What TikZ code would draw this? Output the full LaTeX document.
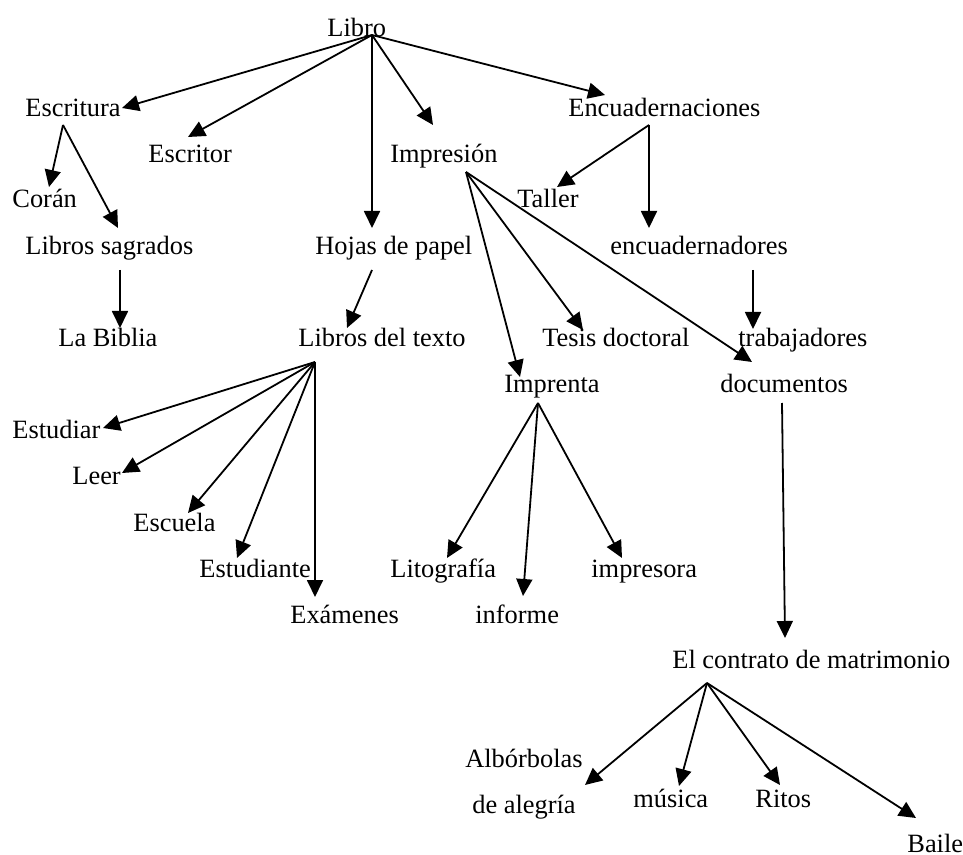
\documentclass[tikz,border=0pt]{standalone}
\usepackage{fontspec}
\setmainfont{Liberation Serif}
\usetikzlibrary{arrows.meta}

\begin{document}
\begin{tikzpicture}[x=0.5pt,y=-0.5pt,
  palabra/.style={anchor=base west,inner sep=0pt,font=\fontsize{13.2}{15}\selectfont},
  flecha/.style={line width=0.9pt,-{Triangle[length=8.5pt,width=8pt]}}]
\useasboundingbox (0,0) rectangle (963,855);

\node[palabra] (libro) at (327,37) {Libro};
\node[palabra] (escritura) at (25,117) {Escritura};
\node[palabra] (escritor) at (148,163) {Escritor};
\node[palabra] (impresion) at (390,163) {Impresión};
\node[palabra] (encuadernaciones) at (568,117) {Encuadernaciones};
\node[palabra] (coran) at (12,208) {Corán};
\node[palabra] (taller) at (517,208) {Taller};
\node[palabra] (sagrados) at (25,255) {Libros sagrados};
\node[palabra] (hojas) at (315,255) {Hojas de papel};
\node[palabra] (encuadernadores) at (610,255) {encuadernadores};
\node[palabra] (biblia) at (58,347) {La Biblia};
\node[palabra] (texto) at (298,347) {Libros del texto};
\node[palabra] (tesis) at (542,347) {Tesis doctoral};
\node[palabra] (trabajadores) at (738,347) {trabajadores};
\node[palabra] (imprenta) at (504,393) {Imprenta};
\node[palabra] (documentos) at (720,393) {documentos};
\node[palabra] (estudiar) at (12,438) {Estudiar};
\node[palabra] (leer) at (72,484) {Leer};
\node[palabra] (escuela) at (133,531) {Escuela};
\node[palabra] (estudiante) at (199,577) {Estudiante};
\node[palabra] (litografia) at (390,577) {Litografía};
\node[palabra] (impresora) at (591,577) {impresora};
\node[palabra] (examenes) at (290,623) {Exámenes};
\node[palabra] (informe) at (475,623) {informe};
\node[palabra] (contrato) at (672,668) {El contrato de matrimonio};
\node[palabra,anchor=base,align=center] (alborbolas) at (524,813) {Albórbolas\\[8pt]de alegría};
\node[palabra] (musica) at (633,807) {música};
\node[palabra] (ritos) at (755,807) {Ritos};
\node[palabra] (baile) at (907,852) {Baile};

\coordinate (libro-o) at (372,35);
\coordinate (escritura-i) at (122,108);
\coordinate (escritor-i) at (188,137);
\coordinate (hojas-i) at (372,228);
\coordinate (impresion-i) at (433,125);
\coordinate (encuadernaciones-i) at (605,95);
\coordinate (escritura-o) at (63,125);
\coordinate (coran-i) at (49,187);
\coordinate (sagrados-i) at (118,228);
\coordinate (encuadernaciones-o) at (649,125);
\coordinate (taller-i) at (557,187);
\coordinate (encuadernadores-i) at (649,228);
\coordinate (sagrados-o) at (120,270);
\coordinate (biblia-i) at (120,328);
\coordinate (hojas-o) at (372,270);
\coordinate (texto-i) at (347,328);
\coordinate (encuadernadores-o) at (753,270);
\coordinate (trabajadores-i) at (753,329);
\coordinate (impresion-o) at (466,172);
\coordinate (imprenta-i) at (520,377);
\coordinate (tesis-i) at (583,330);
\coordinate (documentos-i) at (752,362);
\coordinate (texto-o) at (315,362);
\coordinate (estudiar-i) at (103,428);
\coordinate (leer-i) at (122,473);
\coordinate (escuela-i) at (188,513);
\coordinate (estudiante-i) at (237,558);
\coordinate (examenes-i) at (315,597);
\coordinate (imprenta-o) at (538,403);
\coordinate (litografia-i) at (447,558);
\coordinate (informe-i) at (523,596);
\coordinate (impresora-i) at (622,558);
\coordinate (documentos-o) at (782,403);
\coordinate (contrato-i) at (785,638);
\coordinate (contrato-o) at (707,683);
\coordinate (alborbolas-i) at (585,785);
\coordinate (musica-i) at (679,786);
\coordinate (ritos-i) at (780,785);
\coordinate (baile-i) at (916,818);

\draw[flecha] (libro-o) -- (escritura-i);
\draw[flecha] (libro-o) -- (escritor-i);
\draw[flecha] (libro-o) -- (hojas-i);
\draw[flecha] (libro-o) -- (impresion-i);
\draw[flecha] (libro-o) -- (encuadernaciones-i);
\draw[flecha] (escritura-o) -- (coran-i);
\draw[flecha] (escritura-o) -- (sagrados-i);
\draw[flecha] (encuadernaciones-o) -- (taller-i);
\draw[flecha] (encuadernaciones-o) -- (encuadernadores-i);
\draw[flecha] (sagrados-o) -- (biblia-i);
\draw[flecha] (hojas-o) -- (texto-i);
\draw[flecha] (encuadernadores-o) -- (trabajadores-i);
\draw[flecha] (impresion-o) -- (imprenta-i);
\draw[flecha] (impresion-o) -- (tesis-i);
\draw[flecha] (impresion-o) -- (documentos-i);
\draw[flecha] (texto-o) -- (estudiar-i);
\draw[flecha] (texto-o) -- (leer-i);
\draw[flecha] (texto-o) -- (escuela-i);
\draw[flecha] (texto-o) -- (estudiante-i);
\draw[flecha] (texto-o) -- (examenes-i);
\draw[flecha] (imprenta-o) -- (litografia-i);
\draw[flecha] (imprenta-o) -- (informe-i);
\draw[flecha] (imprenta-o) -- (impresora-i);
\draw[flecha] (documentos-o) -- (contrato-i);
\draw[flecha] (contrato-o) -- (alborbolas-i);
\draw[flecha] (contrato-o) -- (musica-i);
\draw[flecha] (contrato-o) -- (ritos-i);
\draw[flecha] (contrato-o) -- (baile-i);
\end{tikzpicture}
\end{document}
